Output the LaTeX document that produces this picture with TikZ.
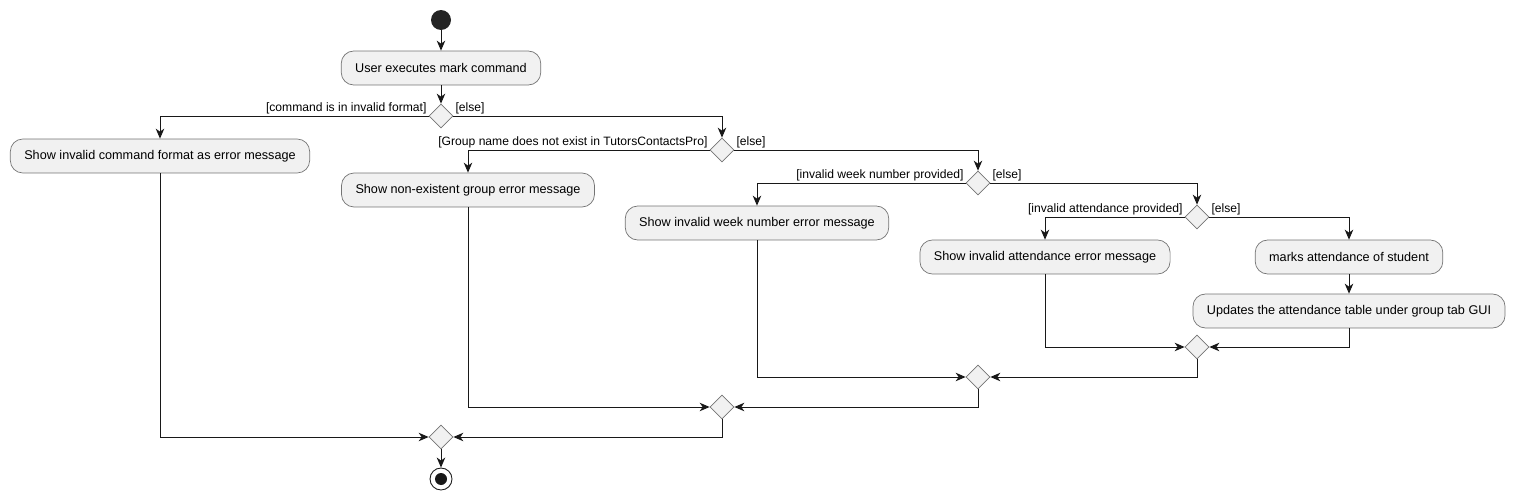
\documentclass[tikz,border=0pt]{standalone}
\usepackage{fontspec}
\setsansfont{Liberation Sans}
\usepackage{tikz}
\usetikzlibrary{arrows.meta, shapes.geometric}
\definecolor{actfill}{RGB}{241,241,241}
\definecolor{drkline}{RGB}{24,24,24}

\begin{document}
\begin{tikzpicture}[x=0.02cm, y=-0.02cm,
    flow/.style={draw=drkline, line width=0.55pt,
      -{Stealth[length=0.2cm, width=0.17cm, inset=0.06cm]}},
    act/.style={draw=drkline!60, line width=0.4pt, fill=actfill,
      rounded corners=0.25cm, minimum height=0.68cm, inner xsep=0.28cm,
      font=\fontsize{7.2}{8.5}\selectfont},
    choice/.style={diamond, draw=drkline!60, line width=0.4pt, fill=actfill,
      minimum width=0.48cm, minimum height=0.48cm, inner sep=0pt},
    guard/.style={inner sep=1pt, font=\fontsize{6.9}{8}\selectfont},
    startdot/.style={circle, fill=drkline!95, minimum size=0.4cm, inner sep=0pt},
    stopdot/.style={circle, draw=drkline, line width=0.5pt, fill=white,
      minimum size=0.44cm, inner sep=0pt,
      path picture={\fill[drkline] (path picture bounding box.center) circle (0.12cm);}}]
  \sffamily
  \useasboundingbox (0,0) rectangle (1518,500);

  \node[startdot] (start) at (441,20) {};
  \node[act] (usercmd) at (441,68) {User executes mark command};
  \node[choice] (fmtchk) at (441,116) {};
  \node[act] (badfmt) at (160,156) {Show invalid command format as error message};
  \node[choice] (grpchk) at (722,150) {};
  \node[act] (nogrp) at (468,190) {Show non-existent group error message};
  \node[choice] (weekchk) at (978,183) {};
  \node[act] (badweek) at (757,223) {Show invalid week number error message};
  \node[choice] (attchk) at (1197,217) {};
  \node[act] (badatt) at (1045,257) {Show invalid attendance error message};
  \node[act] (markatt) at (1349,257) {marks attendance of student};
  \node[act] (updgui) at (1349,311) {Updates the attendance table under group tab GUI};
  \node[choice] (attmerge) at (1197,347) {};
  \node[choice] (weekmerge) at (978,377) {};
  \node[choice] (grpmerge) at (722,407) {};
  \node[choice] (fmtmerge) at (441,437) {};
  \node[stopdot] (stop) at (441,479) {};

  \draw[flow] (start) -- (usercmd);
  \draw[flow] (usercmd) -- (fmtchk);
  \draw[flow] (fmtchk.west) node[guard, anchor=south east]{[command is in invalid format]} -| (badfmt);
  \draw[flow] (fmtchk.east) node[guard, anchor=south west]{[else]} -| (grpchk);
  \draw[flow] (grpchk.west) node[guard, anchor=south east]{[Group name does not exist in TutorsContactsPro]} -| (nogrp);
  \draw[flow] (grpchk.east) node[guard, anchor=south west]{[else]} -| (weekchk);
  \draw[flow] (weekchk.west) node[guard, anchor=south east]{[invalid week number provided]} -| (badweek);
  \draw[flow] (weekchk.east) node[guard, anchor=south west]{[else]} -| (attchk);
  \draw[flow] (attchk.west) node[guard, anchor=south east]{[invalid attendance provided]} -| (badatt);
  \draw[flow] (attchk.east) node[guard, anchor=south west]{[else]} -| (markatt);
  \draw[flow] (markatt) -- (updgui);

  \draw[flow] (badatt) |- (attmerge);
  \draw[flow] (updgui) |- (attmerge);
  \draw[flow] (badweek) |- (weekmerge);
  \draw[flow] (attmerge) |- (weekmerge);
  \draw[flow] (nogrp) |- (grpmerge);
  \draw[flow] (weekmerge) |- (grpmerge);
  \draw[flow] (badfmt) |- (fmtmerge);
  \draw[flow] (grpmerge) |- (fmtmerge);
  \draw[flow] (fmtmerge) -- (stop);
\end{tikzpicture}
\end{document}
